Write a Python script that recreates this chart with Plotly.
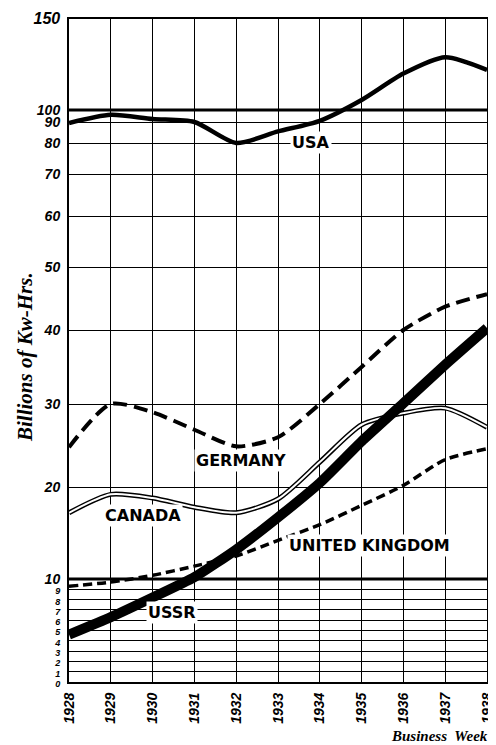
import numpy as np
import plotly.graph_objects as go

# ---------------- data ----------------
years = list(range(1928, 1939))
usa = [89.5, 96, 92.5, 90, 80, 85.5, 91, 105.5, 120, 129, 122]
germany = [24.8, 30, 29, 26.9, 24.9, 26.0, 30, 35, 40, 43.7, 45.7]
canada = [17.2, 19.2, 18.8, 17.8, 17.2, 18.7, 23, 27.5, 28.9, 29.5, 27.2]
uk = [9.3, 9.7, 10.4, 11.4, 12.5, 14.2, 15.9, 18.0, 20.2, 23.3, 24.6]
ussr = [4.6, 6.3, 8.2, 10.2, 13.2, 16.7, 20.5, 25.5, 30.1, 35.3, 40.3]

# irregular printed value scale (value breakpoints -> relative height)
scale_vals = [0, 1, 2, 3, 4, 5, 6, 7, 8, 9, 10, 20, 30, 40, 50, 60, 70, 80, 90, 100, 150]
scale_pos = [0, 10.3, 20.6, 30.9, 41.2, 51.5, 61.8, 72.1, 82.4, 92.7, 103,
             195, 278, 352, 415, 466, 508, 539, 560, 572, 663]
small_ticks = set(range(0, 10))


def ypos(v):
    return np.interp(v, scale_vals, scale_pos)


# layout geometry (page has an 8px body margin)
OFF = 8
W, H = 496 - OFF, 745 - OFF
L, R, T, B = 61, 9, 11, 63
PW, PH = W - L - R, H - T - B


def px(x):
    return (x - OFF - L) / PW


def py(y):
    return (H - B - (y - OFF)) / PH


fig = go.Figure()

fig.add_trace(go.Scatter(x=years, y=ypos(usa), mode="lines",
                         line=dict(color="black", width=4.5, shape="spline", smoothing=0.7),
                         showlegend=False, hoverinfo="skip"))
fig.add_trace(go.Scatter(x=years, y=ypos(germany), mode="lines",
                         line=dict(color="black", width=4, dash="14px,7px", shape="spline", smoothing=0.7),
                         showlegend=False, hoverinfo="skip"))
fig.add_trace(go.Scatter(x=years, y=ypos(canada), mode="lines",
                         line=dict(color="black", width=5, shape="spline", smoothing=0.7),
                         showlegend=False, hoverinfo="skip"))
fig.add_trace(go.Scatter(x=years, y=ypos(canada), mode="lines",
                         line=dict(color="white", width=2, shape="spline", smoothing=0.7),
                         showlegend=False, hoverinfo="skip"))
fig.add_trace(go.Scatter(x=years, y=ypos(uk), mode="lines",
                         line=dict(color="black", width=3.5, dash="9px,5px", shape="spline", smoothing=0.7),
                         showlegend=False, hoverinfo="skip"))
fig.add_trace(go.Scatter(x=years, y=ypos(ussr), mode="lines",
                         line=dict(color="black", width=10, shape="spline", smoothing=0.5),
                         showlegend=False, hoverinfo="skip"))

tickfont = dict(family="Liberation Sans", size=14, color="black", weight="bold", style="italic")
ticktext = []
for v in scale_vals:
    if v in small_ticks:
        ticktext.append(f'<span style="font-size:9px">{v}</span>')
    elif v == 150:
        ticktext.append(f'<span style="font-size:16px">{v}</span>')
    else:
        ticktext.append(str(v))

fig.update_yaxes(range=[0, 663], tickmode="array", tickvals=ypos(scale_vals), ticktext=ticktext,
                 tickfont=tickfont, showgrid=True, gridcolor="black", gridwidth=1.3,
                 showline=True, linecolor="black", linewidth=2, mirror=True, automargin=False,
                 zeroline=False, ticks="", ticklabelstandoff=4, fixedrange=True)
fig.update_xaxes(range=[1928, 1938], tickmode="array", tickvals=years, ticktext=[str(y) for y in years],
                 tickangle=-90, tickfont=dict(family="Liberation Sans", size=14, color="black",
                                              weight="bold", style="italic"),
                 showgrid=True, gridcolor="black", gridwidth=1.3, automargin=False,
                 showline=True, linecolor="black", linewidth=2, mirror=True,
                 zeroline=False, ticks="", ticklabelstandoff=3, fixedrange=True)

# heavy rules at 100 and 10
for v in (100, 10):
    fig.add_shape(type="line", xref="paper", x0=0, x1=1, yref="y", y0=ypos(v), y1=ypos(v),
                  line=dict(color="black", width=3), layer="below")

labfont = dict(family="DejaVu Sans", size=16, color="black", weight="bold")
labels = [("USA", 311, 142), ("GERMANY", 241, 460), ("CANADA", 143, 515),
          ("USSR", 172, 612), ("UNITED KINGDOM", 369, 545)]
for txt, x, y in labels:
    fig.add_annotation(text=txt, xref="paper", yref="paper", x=px(x), y=py(y),
                       showarrow=False, font=labfont, bgcolor="white", borderpad=1,
                       xanchor="center", yanchor="middle")

fig.add_annotation(text="Billions of Kw-Hrs.", xref="paper", yref="paper", x=px(25), y=py(357),
                   textangle=-90, showarrow=False, xanchor="center", yanchor="middle",
                   font=dict(family="Liberation Serif", size=21, color="black", style="italic", weight="bold"))
fig.add_annotation(text="Business  Week", xref="paper", yref="paper", x=px(389), y=py(736),
                   showarrow=False, xanchor="left", yanchor="middle",
                   font=dict(family="Liberation Serif", size=15, color="black", style="italic", weight="bold"))

fig.update_layout(width=W, height=H, margin=dict(l=L, r=R, t=T, b=B),
                  paper_bgcolor="white", plot_bgcolor="white", showlegend=False)

fig.write_html("out.html")
